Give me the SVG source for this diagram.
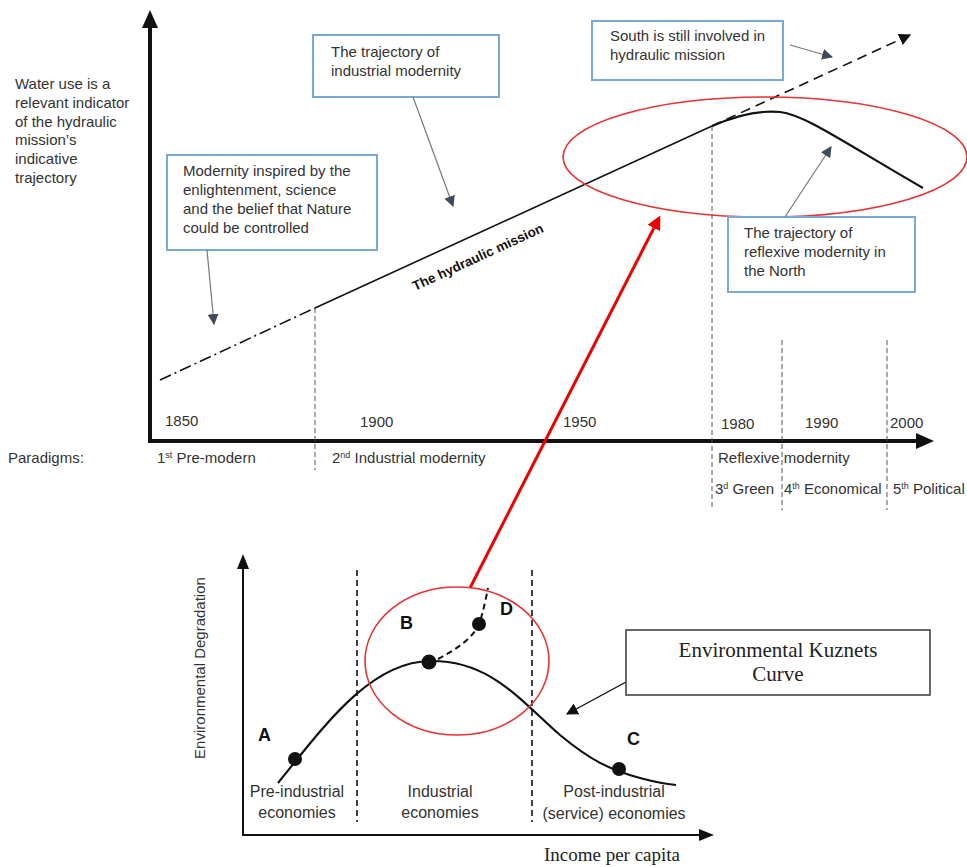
<svg xmlns="http://www.w3.org/2000/svg" width="967" height="867" viewBox="0 0 967 867">
<style>
.t{font-family:"Liberation Sans","DejaVu Sans",sans-serif;font-size:15px;fill:#333}
.tl{font-family:"Liberation Sans","DejaVu Sans",sans-serif;font-size:16px;fill:#333}
.tb{font-family:"Liberation Sans","DejaVu Sans",sans-serif;font-size:18px;font-weight:bold;fill:#111}
.serif{font-family:"Liberation Serif","Times New Roman",serif;fill:#222}
.box{fill:#fff;stroke:#7aa9d6;stroke-width:2}
.vd{stroke:#555;stroke-width:1;stroke-dasharray:5 3;fill:none}
.vd2{stroke:#111;stroke-width:1.6;stroke-dasharray:6 4;fill:none}
.call{stroke:#777;stroke-width:1.2;fill:none;marker-end:url(#ga)}
.red{stroke:#e63333;stroke-width:1.6;fill:none}
</style>
<defs>
<marker id="ga" viewBox="0 0 10 10" refX="9" refY="5" markerWidth="11" markerHeight="11" markerUnits="userSpaceOnUse" orient="auto"><path d="M0,0 L10,5 L0,10 z" fill="#3e4a5a"/></marker>
<marker id="ba" viewBox="0 0 10 10" refX="9" refY="5" markerWidth="12" markerHeight="12" markerUnits="userSpaceOnUse" orient="auto"><path d="M0,0 L10,5 L0,10 z" fill="#111"/></marker>
<marker id="ra" viewBox="0 0 10 10" refX="8" refY="5" markerWidth="14" markerHeight="14" markerUnits="userSpaceOnUse" orient="auto"><path d="M0,0 L10,5 L0,10 z" fill="#e00"/></marker>
</defs>

<!-- top chart axes -->
<g id="top-axes">
<line x1="150" y1="442" x2="150" y2="26" stroke="#111" stroke-width="4"/>
<polygon points="150,10 142,28 158,28" fill="#111"/>
<line x1="148" y1="441" x2="918" y2="441" stroke="#111" stroke-width="4"/>
<polygon points="934,441 916,433 916,449" fill="#111"/>
</g>

<!-- vertical dashed separators -->
<g id="separators">
<line class="vd" x1="315" y1="308" x2="315" y2="470"/>
<line class="vd" x1="712" y1="126" x2="712" y2="510"/>
<line class="vd" x1="782" y1="340" x2="782" y2="510"/>
<line class="vd" x1="887" y1="340" x2="887" y2="510"/>
</g>

<!-- y label -->
<g id="ylabel">
<text class="t" x="15" y="89">Water use is a</text>
<text class="t" x="15" y="108">relevant indicator</text>
<text class="t" x="15" y="127">of the hydraulic</text>
<text class="t" x="15" y="145">mission’s</text>
<text class="t" x="15" y="164">indicative</text>
<text class="t" x="15" y="183">trajectory</text>
</g>

<!-- years -->
<g id="years">
<text class="t" x="165" y="426">1850</text>
<text class="t" x="360" y="427">1900</text>
<text class="t" x="563" y="427">1950</text>
<text class="t" x="721" y="429">1980</text>
<text class="t" x="805" y="428">1990</text>
<text class="t" x="890" y="428">2000</text>
</g>

<!-- paradigms -->
<g id="paradigms">
<text class="t" x="8" y="463">Paradigms:</text>
<text class="t" x="157" y="463">1<tspan font-size="9" dy="-5">st</tspan><tspan dy="5"> Pre-modern</tspan></text>
<text class="t" x="332" y="463">2<tspan font-size="9" dy="-5">nd</tspan><tspan dy="5"> Industrial modernity</tspan></text>
<text class="t" x="718" y="463">Reflexive modernity</text>
<text class="t" x="715" y="494">3<tspan font-size="9" dy="-5">d</tspan><tspan dy="5"> Green</tspan></text>
<text class="t" x="784" y="494">4<tspan font-size="9" dy="-5">th</tspan><tspan dy="5"> Economical</tspan></text>
<text class="t" x="893" y="494">5<tspan font-size="9" dy="-5">th</tspan><tspan dy="5"> Political</tspan></text>
</g>

<!-- trajectory lines -->
<g id="trajectories">
<line x1="160" y1="380" x2="315" y2="308" stroke="#111" stroke-width="1.6" stroke-dasharray="12 4 2 4"/>
<line x1="315" y1="308" x2="712" y2="126" stroke="#111" stroke-width="1.6"/>
<line x1="712" y1="126" x2="910" y2="35" stroke="#111" stroke-width="1.6" stroke-dasharray="10 6" marker-end="url(#ba)"/>
<path d="M712,126 C735,116 760,110 780,112 C805,115 840,140 923,188" stroke="#111" stroke-width="2.2" fill="none"/>
<text font-family="Liberation Sans, DejaVu Sans, sans-serif" font-size="13.5" font-weight="bold" fill="#111" transform="translate(415,291) rotate(-24.7)">The hydraulic mission</text>
</g>

<!-- red ellipse top -->
<ellipse id="top-ellipse" class="red" cx="765" cy="157" rx="202" ry="60"/>

<!-- callout boxes -->
<g id="box-industrial">
<rect class="box" x="313" y="35" width="186" height="62"/>
<text class="t" x="331" y="57">The trajectory of</text>
<text class="t" x="331" y="76">industrial modernity</text>
</g>
<g id="box-modernity">
<rect class="box" x="167" y="155" width="210" height="95"/>
<text class="t" x="183" y="176">Modernity inspired by the</text>
<text class="t" x="183" y="195">enlightenment, science</text>
<text class="t" x="183" y="214">and the belief that Nature</text>
<text class="t" x="183" y="233">could be controlled</text>
</g>
<g id="box-south">
<rect class="box" x="592" y="21" width="191" height="59"/>
<text class="t" x="610" y="41">South is still  involved in</text>
<text class="t" x="610" y="60">hydraulic mission</text>
</g>
<g id="box-reflexive">
<rect class="box" x="728" y="217" width="187" height="75"/>
<text class="t" x="744" y="238">The trajectory of</text>
<text class="t" x="744" y="257">reflexive modernity in</text>
<text class="t" x="744" y="276">the North</text>
</g>

<!-- callout connectors -->
<g id="callouts">
<line class="call" x1="413" y1="97" x2="453" y2="206"/>
<line class="call" x1="207" y1="250" x2="214" y2="324"/>
<line class="call" x1="790" y1="45" x2="832" y2="57"/>
<line class="call" x1="785" y1="217" x2="831" y2="147"/>
<line x1="626" y1="682" x2="567" y2="714" stroke="#111" stroke-width="1.4" marker-end="url(#ba)"/>
<line x1="470" y1="588" x2="659" y2="218" stroke="#e00" stroke-width="3" marker-end="url(#ra)"/>
</g>

<!-- bottom chart -->
<g id="bottom-axes">
<line x1="243" y1="836" x2="243" y2="568" stroke="#111" stroke-width="2"/>
<polygon points="243,554 237,569 249,569" fill="#111"/>
<line x1="242" y1="835" x2="700" y2="835" stroke="#111" stroke-width="2"/>
<polygon points="714,835 699,829 699,841" fill="#111"/>
<line class="vd2" x1="357" y1="570" x2="357" y2="822"/>
<line class="vd2" x1="532" y1="570" x2="532" y2="822"/>
</g>

<g id="ekc-curve">
<path d="M278,783 C325,725 370,662 430,661 C490,660 520,700 560,735 C590,760 610,770 640,778 C655,782 665,784 676,785" stroke="#111" stroke-width="2.2" fill="none"/>
<path d="M438,659 C455,650 474,638 480,622 C484,608 486,598 488,588" stroke="#111" stroke-width="2" stroke-dasharray="6 4" fill="none"/>
<circle cx="295" cy="759" r="7" fill="#111"/>
<circle cx="429" cy="662" r="7.5" fill="#111"/>
<circle cx="479" cy="624" r="7" fill="#111"/>
<circle cx="619" cy="769" r="7" fill="#111"/>
<text class="tb" x="258" y="741">A</text>
<text class="tb" x="400" y="629">B</text>
<text class="tb" x="500" y="615">D</text>
<text class="tb" x="627" y="745">C</text>
</g>

<ellipse id="bottom-ellipse" class="red" cx="457" cy="661" rx="92" ry="74"/>

<g id="bottom-labels">
<text class="t" transform="translate(205,668) rotate(-90)" text-anchor="middle" font-size="16">Environmental Degradation</text>
<text class="tl" x="297" y="797" text-anchor="middle">Pre-industrial</text>
<text class="tl" x="297" y="818" text-anchor="middle">economies</text>
<text class="tl" x="440" y="797" text-anchor="middle">Industrial</text>
<text class="tl" x="440" y="818" text-anchor="middle">economies</text>
<text class="tl" x="614" y="797" text-anchor="middle">Post-industrial</text>
<text class="tl" x="614" y="819" text-anchor="middle">(service) economies</text>
<text class="serif" x="612" y="861" font-size="19" text-anchor="middle">Income per capita</text>
</g>

<g id="box-ekc">
<rect x="626" y="630" width="304" height="65" fill="#fff" stroke="#444" stroke-width="1.6"/>
<text class="serif" x="778" y="657" font-size="21" text-anchor="middle">Environmental Kuznets</text>
<text class="serif" x="778" y="681" font-size="21" text-anchor="middle">Curve</text>
</g>
</svg>
